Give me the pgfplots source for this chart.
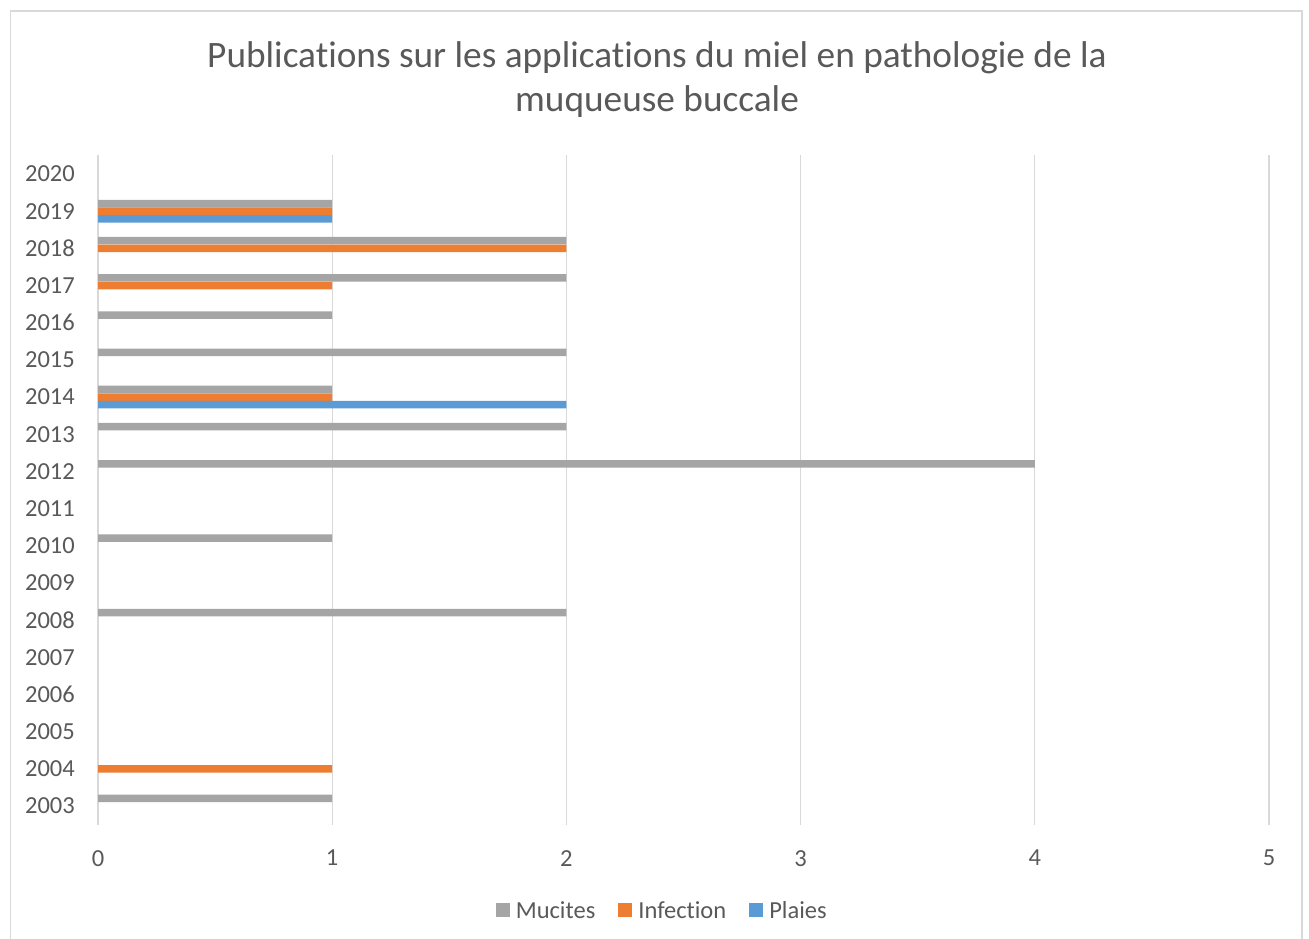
\documentclass[border=0pt]{standalone}
\usepackage{fontspec}
\setmainfont{Carlito}[Ligatures=NoCommon]
\usepackage{pgfplots}
\pgfplotsset{compat=1.18}
\definecolor{cGray}{HTML}{A5A5A5}
\definecolor{cOrange}{HTML}{ED7D31}
\definecolor{cBlue}{HTML}{5B9BD5}
\definecolor{cText}{HTML}{595959}
\definecolor{cGrid}{HTML}{D9D9D9}
\begin{document}
\begin{tikzpicture}
\path[use as bounding box] (0,0) rectangle (1309bp,939bp);
\draw[cGrid, line width=1.5bp] (10.5bp,0bp) -- (10.5bp,928bp) -- (1302bp,928bp) -- (1302bp,0bp);
\node[anchor=base, text=cText, font=\fontsize{37.3bp}{44bp}\selectfont] at (657bp,871bp) {Publications sur les applications du miel en pathologie de la};
\node[anchor=base, text=cText, font=\fontsize{37.3bp}{44bp}\selectfont] at (657bp,827bp) {muqueuse buccale};
\begin{axis}[
  at={(98bp,114.4bp)}, anchor=south west,
  scale only axis, width=1171bp, height=669.2bp,
  xbar, bar width=7.5bp,
  xmin=0, xmax=5, ymin=2002.5, ymax=2020.5,
  xtick={0,1,2,3,4,5},
  ytick={2003,2004,...,2020},
  /pgf/number format/1000 sep={},
  /pgf/number format/assume math mode=true,
  axis line style={draw=none},
  major tick length=0pt,
  xmajorgrids, grid style={cGrid, line width=1.2bp},
  tick label style={font=\fontsize{24.5bp}{28bp}\selectfont, text=cText, inner sep=0pt},
  yticklabel style={anchor=east, xshift=-23bp},
  xticklabel style={anchor=north, yshift=-25.4bp},
  legend style={at={(0.481,-0.1291)}, anchor=center, draw=none, fill=none,
    font=\fontsize{24.5bp}{28bp}\selectfont, text=cText,
    legend columns=3,
    /tikz/every odd column/.append style={column sep=6bp},
    /tikz/every even column/.append style={column sep=23bp},
    nodes={inner sep=0pt, text=cText}},
  legend cell align=left,
  legend image code/.code={\fill[#1, draw=none] (0bp,-6bp) rectangle (14bp,8bp);},
]
\addplot[fill=cGray, draw=none, bar shift=7.6bp] coordinates {
(1,2003) (2,2008) (1,2010) (4,2012) (2,2013) (1,2014) (2,2015) (1,2016) (2,2017) (2,2018) (1,2019)};
\addlegendentry{Mucites}
\addplot[fill=cOrange, draw=none, bar shift=0bp] coordinates {
(1,2004) (1,2014) (1,2017) (2,2018) (1,2019)};
\addlegendentry{Infection}
\addplot[fill=cBlue, draw=none, bar shift=-7.6bp] coordinates {
(2,2014) (1,2019)};
\addlegendentry{Plaies}
\end{axis}
\end{tikzpicture}
\end{document}
